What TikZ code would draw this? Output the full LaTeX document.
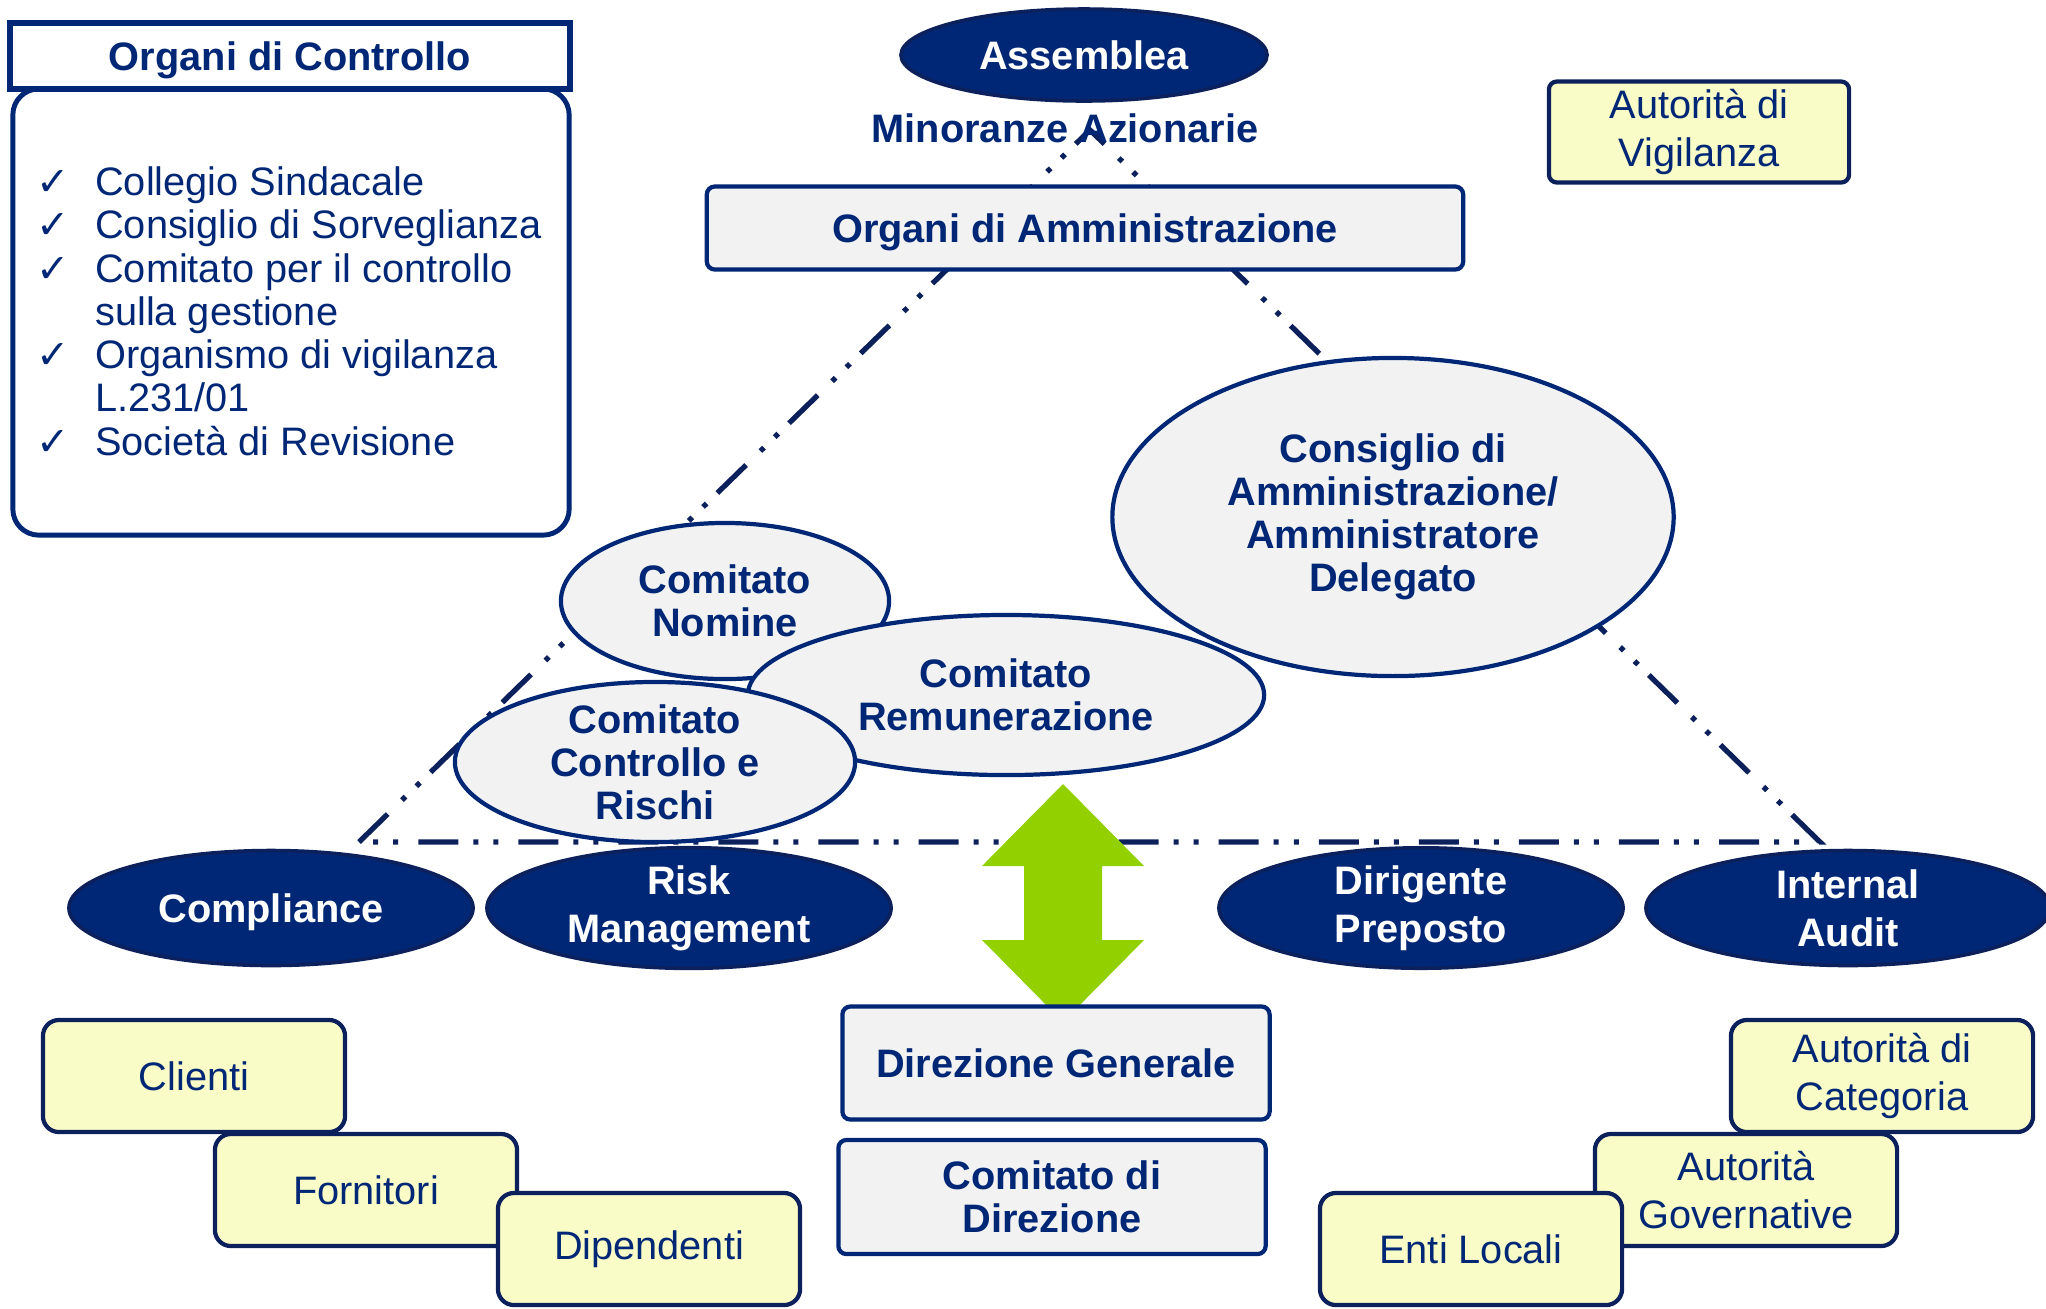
\documentclass[tikz,border=0pt]{standalone}
\usepackage{fontspec}
\setmainfont{Liberation Sans}
\newfontfamily\checkfont{DejaVu Sans}
\usetikzlibrary{shapes.geometric}
\definecolor{navy}{RGB}{0,39,118}
\definecolor{navydark}{RGB}{12,32,92}
\definecolor{boxgray}{RGB}{242,242,242}
\definecolor{pale}{RGB}{249,252,199}
\definecolor{lime}{RGB}{146,208,0}
\newcommand{\chk}{\makebox[5.85mm][l]{\checkfont\char"2713}}
\newcommand{\nochk}{\makebox[5.85mm]{}}
\tikzset{
  orgtext/.style={align=center, inner sep=0pt, text=navy, font=\fontsize{11.3}{12.2}\selectfont\bfseries},
  darkell/.style={orgtext, ellipse, draw=navydark, line width=1pt, fill=navy, text=white,
    font=\fontsize{11.3}{13.7}\selectfont\bfseries, minimum width=4.04cm, minimum height=1.15cm},
  lightell/.style={orgtext, ellipse, draw=navy, line width=1.2pt, fill=boxgray},
  graybox/.style={orgtext, draw=navy, line width=1.2pt, fill=boxgray, rounded corners=0.08cm,
    minimum width=4.27cm, minimum height=1.13cm},
  palebox/.style={orgtext, draw=navydark, line width=1.2pt, fill=pale, rounded corners=0.16cm,
    font=\fontsize{11.3}{13.6}\selectfont, minimum width=3.02cm, minimum height=1.12cm},
  tri/.style={navydark, line width=1.5pt, dash pattern=on 0.4cm off 0.2cm on 0.05cm off 0.15cm on 0.05cm off 0.15cm}
}

\begin{document}
\begin{tikzpicture}[x=0.01cm, y=-0.01cm]
  \useasboundingbox (0,0) rectangle (2046,1308);
  \coordinate (apex) at (1090,130);
  \coordinate (baseL) at (359,842);
  \coordinate (baseR) at (1820,842);
  \draw[tri] (baseL) -- (apex) -- (baseR) -- cycle;

  \node[draw=navy, line width=1.4pt, fill=white, rounded corners=0.26cm, minimum width=5.56cm,
    minimum height=4.46cm] (ctrlbody) at (291,312) {};
  \node[orgtext, draw=navy, line width=1.8pt, fill=white, text depth=0pt, minimum width=5.6cm,
    minimum height=0.66cm] (ctrlhead) at (290,56) {Organi di Controllo};
  \node[orgtext, anchor=north west, align=left, font=\fontsize{11.3}{12.3}\selectfont] (ctrllist) at (36,166)
    {\chk Collegio Sindacale\\ \chk Consiglio di Sorveglianza\\ \chk Comitato per il controllo\\
     \nochk sulla gestione\\ \chk Organismo di vigilanza\\ \nochk L.231/01\\ \chk Società di Revisione};

  \node[darkell, minimum width=3.66cm, minimum height=0.92cm] (assemblea) at (1084,55) {Assemblea};
  \node[orgtext] (minoranze) at (1065,128) {Minoranze Azionarie};
  \node[graybox, text depth=0pt, minimum width=7.56cm, minimum height=0.83cm] (amm) at (1085,228)
    {Organi di Amministrazione};
  \node[palebox, rounded corners=0.08cm, font=\fontsize{11.3}{13.6}\selectfont, minimum width=3.0cm,
    minimum height=1.01cm] (vigilanza) at (1699,132) {Autorità di\\Vigilanza};

  \node[lightell, minimum width=5.61cm, minimum height=3.18cm] (cda) at (1393,517)
    {Consiglio di\\Amministrazione/\\Amministratore\\Delegato};
  \node[lightell, minimum width=3.28cm, minimum height=1.56cm] (nomine) at (725,601) {Comitato\\Nomine};
  \node[lightell, minimum width=5.16cm, minimum height=1.6cm] (remun) at (1006,695) {Comitato\\Remunerazione};
  \node[lightell, inner ysep=-4pt, minimum width=4.0cm, minimum height=1.6cm] (rischi) at (655,762)
    {Comitato\\Controllo e\\Rischi};

  \node[darkell, text depth=0pt] (compliance) at (271,908) {Compliance};
  \node[darkell] (riskman) at (689,908) {Risk\\Management};
  \node[darkell] (dirigente) at (1421,908) {Dirigente\\Preposto};
  \node[darkell] (audit) at (1848,908) {Internal\\Audit};

  \fill[lime] (1063,784) -- (1144,866) -- (1102,866) -- (1102,940) -- (1144,940) -- (1063,1022)
    -- (982,940) -- (1024,940) -- (1024,866) -- (982,866) -- cycle;

  \node[graybox] (dirgen) at (1056,1063) {Direzione Generale};
  \node[graybox, minimum height=1.14cm] (comdir) at (1052,1197) {Comitato di\\Direzione};

  \node[palebox] (clienti) at (194,1076) {Clienti};
  \node[palebox] (fornitori) at (366,1190) {Fornitori};
  \node[palebox] (dipendenti) at (649,1249) {Dipendenti};
  \node[palebox] (categoria) at (1882,1076) {Autorità di\\Categoria};
  \node[palebox] (governative) at (1746,1190) {Autorità\\Governative};
  \node[palebox] (enti) at (1471,1249) {Enti Locali};
\end{tikzpicture}
\end{document}
